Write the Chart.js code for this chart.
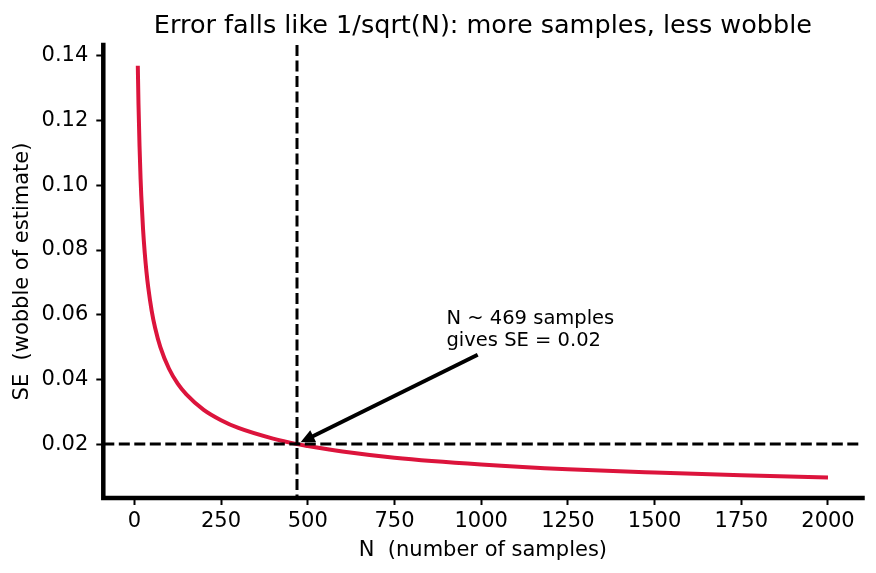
<!DOCTYPE html>
<html><head><meta charset="utf-8">
<script src="https://cdn.jsdelivr.net/npm/chart.js@4.4.1/dist/chart.umd.min.js"></script>
<style>html,body{margin:0;padding:0;background:#fff}#wrap{width:876px;height:573px}</style>
</head><body><div id="wrap"><canvas id="c" width="876" height="573"></canvas></div>
<script>
// ---- data ----
const sampleSizes    = [10, 12, 15, 18, 20, 25, 30, 35, 40, 50, 60, 75, 100, 125, 150, 200, 250, 300, 400, 469, 500, 600, 750, 1000, 1250, 1500, 1750, 2000];
const standardErrors = [0.137, 0.125, 0.112, 0.102, 0.0968, 0.0866, 0.0791, 0.0732, 0.0685, 0.0612, 0.0559, 0.0500, 0.0433, 0.0387, 0.0354, 0.0306, 0.0274, 0.0250, 0.0217, 0.0200, 0.0194, 0.0177, 0.0158, 0.0137, 0.0122, 0.0112, 0.0104, 0.0097];
const xTickValues = [0, 250, 500, 750, 1000, 1250, 1500, 1750, 2000];
const yTickValues = [0.02, 0.04, 0.06, 0.08, 0.10, 0.12, 0.14];
const xRange = [-89.5, 2099.5];
const yRange = [0.00333, 0.1434];
const targetN = 469;
const targetSE = 0.02;
const titleText = 'Error falls like 1/sqrt(N): more samples, less wobble';
const xLabel = 'N  (number of samples)';
const yLabel = 'SE  (wobble of estimate)';
const annotationLines = ['N ~ 469 samples', 'gives SE = 0.02'];
const annotationTextAt = [900, 0.049];
const annotationArrowFrom = [990, 0.0476];

const FONT = "'DejaVu Sans', sans-serif";

const overlay = {
  id: 'overlay',
  afterDatasetsDraw(chart) {
    const {ctx, chartArea: a, scales: {x, y}} = chart;
    ctx.save();
    ctx.strokeStyle = '#000';
    ctx.lineWidth = 3;
    ctx.setLineDash([11, 4.5]);
    const px = x.getPixelForValue(targetN);
    const py = y.getPixelForValue(targetSE);
    ctx.beginPath(); ctx.moveTo(px, a.top); ctx.lineTo(px, a.bottom); ctx.stroke();
    ctx.beginPath(); ctx.moveTo(a.left, py); ctx.lineTo(a.right, py); ctx.stroke();
    ctx.restore();
  },
  afterDraw(chart) {
    const {ctx, chartArea: a, scales: {x, y}} = chart;
    ctx.save();
    // spines
    ctx.strokeStyle = '#000';
    ctx.lineWidth = 4.5;
    ctx.lineCap = 'square';
    ctx.beginPath(); ctx.moveTo(a.left, a.top); ctx.lineTo(a.left, a.bottom); ctx.lineTo(a.right, a.bottom); ctx.stroke();
    // title
    ctx.fillStyle = '#000';
    ctx.font = '25.5px ' + FONT;
    ctx.textAlign = 'center';
    ctx.textBaseline = 'alphabetic';
    ctx.fillText(titleText, (a.left + a.right) / 2, 33);
    // annotation text
    ctx.font = '19.5px ' + FONT;
    ctx.textAlign = 'left';
    ctx.textBaseline = 'bottom';
    const tx = x.getPixelForValue(annotationTextAt[0]);
    const ty = y.getPixelForValue(annotationTextAt[1]);
    ctx.fillText(annotationLines[0], tx, ty - 22);
    ctx.fillText(annotationLines[1], tx, ty);
    // arrow
    const sx = x.getPixelForValue(annotationArrowFrom[0]);
    const sy = y.getPixelForValue(annotationArrowFrom[1]);
    let ex = x.getPixelForValue(targetN);
    let ey = y.getPixelForValue(targetSE);
    const dx = ex - sx, dy = ey - sy, len = Math.hypot(dx, dy);
    const ux = dx / len, uy = dy / len;
    ex -= ux * 4; ey -= uy * 4;
    const headLen = 14, headW = 6.5;
    const bx = ex - ux * headLen, by = ey - uy * headLen;
    ctx.lineWidth = 4;
    ctx.lineCap = 'butt';
    ctx.beginPath(); ctx.moveTo(sx, sy); ctx.lineTo(bx + ux * 2, by + uy * 2); ctx.stroke();
    ctx.beginPath();
    ctx.moveTo(ex, ey);
    ctx.lineTo(bx - uy * headW, by + ux * headW);
    ctx.lineTo(bx + uy * headW, by - ux * headW);
    ctx.closePath(); ctx.fill();
    ctx.restore();
  }
};

new Chart(document.getElementById('c'), {
  type: 'line',
  data: {
    datasets: [{
      data: sampleSizes.map((n, i) => ({x: n, y: standardErrors[i]})),
      borderColor: '#DC143C',
      borderWidth: 4,
      pointRadius: 0,
      cubicInterpolationMode: 'monotone',
      fill: false
    }]
  },
  options: {
    responsive: false,
    animation: false,
    devicePixelRatio: 1,
    layout: {padding: {top: 45, right: 13.5, left: 0, bottom: 0}},
    plugins: {legend: {display: false}, tooltip: {enabled: false}, title: {display: false}},
    scales: {
      x: {
        type: 'linear', min: xRange[0], max: xRange[1],
        afterBuildTicks: s => { s.ticks = xTickValues.map(v => ({value: v})); },
        afterFit: s => { s.height = 75; },
        grid: {drawOnChartArea: false, drawTicks: true, tickLength: 7, tickWidth: 2, tickColor: '#000'},
        border: {display: false},
        ticks: {color: '#000', font: {family: FONT, size: 21}, padding: 4, maxRotation: 0, callback: v => String(v)},
        title: {display: true, text: xLabel, color: '#000', font: {family: FONT, size: 21}, padding: {top: 0, bottom: 10}}
      },
      y: {
        type: 'linear', min: yRange[0], max: yRange[1],
        afterBuildTicks: s => { s.ticks = yTickValues.map(v => ({value: v})); },
        afterFit: s => { s.width = 103.3; },
        grid: {drawOnChartArea: false, drawTicks: true, tickLength: 7, tickWidth: 2, tickColor: '#000'},
        border: {display: false},
        ticks: {color: '#000', font: {family: FONT, size: 21}, padding: 8, callback: v => v.toFixed(2)},
        title: {display: true, text: yLabel, color: '#000', font: {family: FONT, size: 21}, padding: {top: 9.5, bottom: 0}}
      }
    }
  },
  plugins: [overlay]
});
</script></body></html>
